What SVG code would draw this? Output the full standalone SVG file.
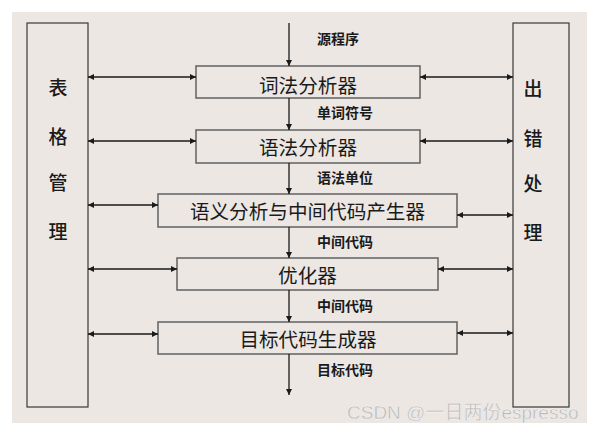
<svg xmlns="http://www.w3.org/2000/svg" width="592" height="432" viewBox="0 0 592 432">
<defs>
<style>
.bg{fill:#ece7e3}
.side{fill:none;stroke:#3a3a3a;stroke-width:1.2}
.box{fill:#ece7e3;stroke:#6a6a6a;stroke-width:1.6}
.ln{stroke:#1a1a1a;stroke-width:1.3;fill:none}
.one{marker-end:url(#ah)}
.two{marker-start:url(#ah);marker-end:url(#ah)}
.bt{font-family:"Noto Sans CJK SC","Noto Sans",sans-serif;font-size:19.6px;fill:#1a1a1a;text-anchor:middle}
.st{font-family:"Noto Sans CJK SC","Noto Sans",sans-serif;font-size:19px;font-weight:500;fill:#1a1a1a;text-anchor:middle}
.lb{font-family:"Noto Sans CJK SC","Noto Sans",sans-serif;font-size:14px;font-weight:700;fill:#1a1a1a}
.wm{font-family:"Liberation Sans","Noto Sans CJK SC",sans-serif;font-size:19px;fill:#b8b8b8;stroke:#ffffff;stroke-width:0.3}
</style>
<marker id="ah" viewBox="0 0 10 10" refX="10" refY="5" markerWidth="8" markerHeight="6" markerUnits="userSpaceOnUse" orient="auto-start-reverse">
<path d="M0,0 L10,5 L0,10 Z" fill="#1a1a1a"/>
</marker>
</defs>
<rect x="12" y="12" width="575" height="411" class="bg"/>
<g id="table-mgmt">
<rect x="27" y="23" width="61" height="384" class="side"/>
<text class="st" x="58" y="95">表</text>
<text class="st" x="58" y="144">格</text>
<text class="st" x="58" y="190">管</text>
<text class="st" x="58" y="239">理</text>
</g>
<g id="error-handling">
<rect x="513" y="23" width="56" height="384" class="side"/>
<text class="st" x="533" y="96">出</text>
<text class="st" x="533" y="146">错</text>
<text class="st" x="533" y="191">处</text>
<text class="st" x="533" y="240">理</text>
</g>
<g id="lexer">
<rect x="196" y="66" width="224" height="32" class="box"/>
<text class="bt" x="308" y="93">词法分析器</text>
</g>
<g id="parser">
<rect x="196" y="130" width="224" height="33" class="box"/>
<text class="bt" x="308" y="155">语法分析器</text>
</g>
<g id="semantic">
<rect x="158" y="194" width="299" height="33" class="box"/>
<text class="bt" x="307.5" y="219">语义分析与中间代码产生器</text>
</g>
<g id="optimizer">
<rect x="177" y="258" width="261" height="32" class="box"/>
<text class="bt" x="307.5" y="283">优化器</text>
</g>
<g id="codegen">
<rect x="158" y="322" width="299" height="32" class="box"/>
<text class="bt" x="308" y="347">目标代码生成器</text>
</g>
<g id="connectors">
<line class="ln one" x1="289" y1="23" x2="289" y2="66"/>
<line class="ln one" x1="289" y1="98" x2="289" y2="130"/>
<line class="ln one" x1="289" y1="163" x2="289" y2="194"/>
<line class="ln one" x1="289" y1="227" x2="289" y2="258"/>
<line class="ln one" x1="289" y1="290" x2="289" y2="322"/>
<line class="ln one" x1="289" y1="354" x2="289" y2="395"/>
<line class="ln two" x1="88" y1="77" x2="196" y2="77"/>
<line class="ln two" x1="88" y1="141" x2="196" y2="141"/>
<line class="ln two" x1="88" y1="205" x2="158" y2="205"/>
<line class="ln two" x1="88" y1="269" x2="177" y2="269"/>
<line class="ln two" x1="88" y1="334" x2="158" y2="334"/>
<line class="ln two" x1="420" y1="77" x2="513" y2="77"/>
<line class="ln two" x1="420" y1="141" x2="513" y2="141"/>
<line class="ln two" x1="457" y1="215" x2="513" y2="215"/>
<line class="ln two" x1="438" y1="269" x2="513" y2="269"/>
<line class="ln two" x1="457" y1="333" x2="513" y2="333"/>
</g>
<g id="labels">
<text class="lb" x="317" y="44">源程序</text>
<text class="lb" x="317" y="118">单词符号</text>
<text class="lb" x="317" y="183">语法单位</text>
<text class="lb" x="317" y="247">中间代码</text>
<text class="lb" x="317" y="311">中间代码</text>
<text class="lb" x="317" y="375">目标代码</text>
</g>
<text class="wm" x="347" y="419">CSDN @一日两份espresso</text>
</svg>
